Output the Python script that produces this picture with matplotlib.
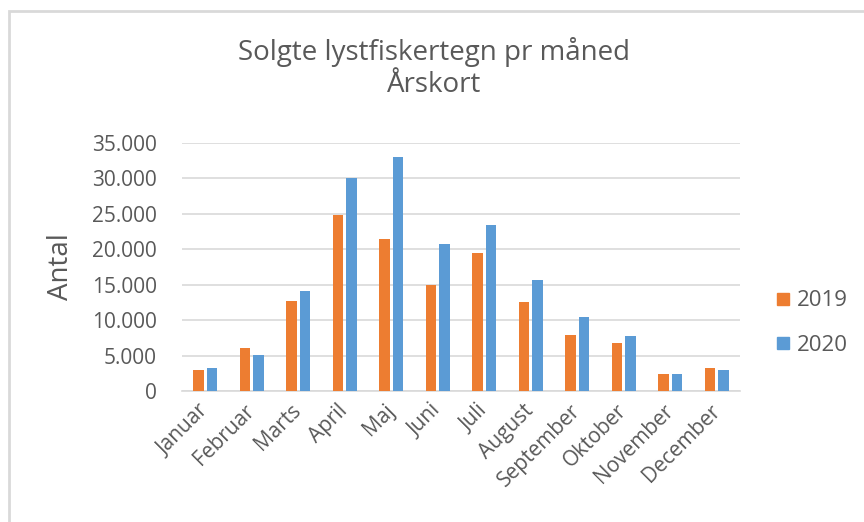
import matplotlib
matplotlib.use("Agg")
import matplotlib.pyplot as plt
import matplotlib.ticker as mticker
from matplotlib.patches import Rectangle
from matplotlib.lines import Line2D
import numpy as np

plt.rcParams['font.family'] = ['Open Sans', 'DejaVu Sans']

# data
months = ['Januar', 'Februar', 'Marts', 'April', 'Maj', 'Juni', 'Juli',
          'August', 'September', 'Oktober', 'November', 'December']
sales_2019 = [3000, 6100, 12700, 24900, 21500, 15000, 19500, 12600, 7900, 6800, 2400, 3200]
sales_2020 = [3300, 5100, 14100, 30100, 33000, 20800, 23400, 15700, 10500, 7700, 2400, 2900]
years = ['2019', '2020']
colors = ['#ED7D31', '#5B9BD5']
text_col = '#595959'

fig = plt.figure(figsize=(8.64, 5.22), dpi=100)
ax = fig.add_axes([182/864, 1 - 391/522, 558/864, 248/522])

x = np.arange(len(months))
w = 0.23
ax.bar(x - 0.145, sales_2019, width=w, color=colors[0], zorder=3)
ax.bar(x + 0.145, sales_2020, width=w, color=colors[1], zorder=3)

ax.set_xlim(-0.5, len(months) - 0.5)
ax.set_ylim(0, 35000)
ax.set_yticks(np.arange(0, 35001, 5000))
ax.yaxis.set_major_formatter(mticker.FuncFormatter(
    lambda v, p: '0' if v == 0 else f'{int(v):,}'.replace(',', '.')))
ax.grid(axis='y', color='#D9D9D9', linewidth=1.2, zorder=0)
for s in ['top', 'right', 'left']:
    ax.spines[s].set_visible(False)
ax.spines['bottom'].set_color('#D9D9D9')
ax.spines['bottom'].set_linewidth(1.2)
ax.tick_params(axis='both', length=0, colors=text_col)
ax.tick_params(axis='y', pad=18, labelsize=15)

ax.set_xticks(x)
ax.set_xticklabels(months, rotation=45, ha='right', va='center',
                   rotation_mode='anchor', fontsize=15)
ax.tick_params(axis='x', pad=12)

ax.set_ylabel('Antal', fontsize=20, color=text_col, labelpad=12)

fig.text(0.502, 1 - 52/522, 'Solgte lystfiskertegn pr måned', fontsize=20,
         color=text_col, ha='center', va='center')
fig.text(0.502, 1 - 85/522, 'Årskort', fontsize=20,
         color=text_col, ha='center', va='center')

handles = [Line2D([], [], marker='s', linestyle='none', markersize=8,
                  color=c) for c in colors]
fig.legend(handles, years, loc='center left', frameon=False,
           bbox_to_anchor=(752/864, 1 - 323/522), fontsize=16,
           labelcolor=text_col, handletextpad=0.1, labelspacing=1.05,
           handlelength=1.0)

# light frame around chart area
fig.patches.append(Rectangle((9/864, -0.1), 1.2, 1.1 - 11/522,
                             transform=fig.transFigure, fill=False,
                             edgecolor='#D9D9D9', linewidth=2))

fig.savefig('out.png', dpi=100)
